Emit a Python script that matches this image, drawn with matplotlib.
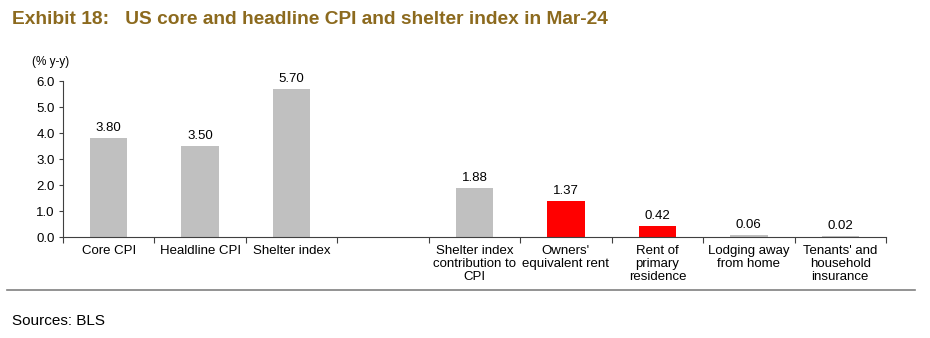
import numpy as np
import matplotlib
matplotlib.use("Agg")
import matplotlib.pyplot as plt
from matplotlib.ticker import FormatStrFormatter

plt.rcParams["font.family"] = ["Liberation Sans", "DejaVu Sans"]

categories = [
    "Core CPI",
    "Healdline CPI",
    "Shelter index",
    "",
    "Shelter index\ncontribution to\nCPI",
    "Owners'\nequivalent rent",
    "Rent of\nprimary\nresidence",
    "Lodging away\nfrom home",
    "Tenants' and\nhousehold\ninsurance",
]
values = [3.80, 3.50, 5.70, np.nan, 1.88, 1.37, 0.42, 0.06, 0.02]
bar_colors = ["#C0C0C0", "#C0C0C0", "#C0C0C0", "#C0C0C0", "#C0C0C0",
              "#FF0000", "#FF0000", "#C0C0C0", "#C0C0C0"]
y_ticks = [0.0, 1.0, 2.0, 3.0, 4.0, 5.0, 6.0]

TITLE_COLOR = "#8C6A1E"

fig = plt.figure(figsize=(9.3, 3.38), dpi=100)
ax = fig.add_axes([0.0677, 0.2988, 0.885, 0.4615])

x = np.arange(len(categories))
ax.bar(x, values, width=0.41, color=bar_colors, zorder=2)

# value labels over each bar
for xi, v in zip(x, values):
    if np.isnan(v):
        continue
    ax.annotate(f"{v:.2f}", (xi, v), xytext=(0, 3), textcoords="offset points",
                ha="center", va="bottom", fontsize=9.5, clip_on=False)

ax.set_xlim(-0.5, len(categories) - 0.5)
ax.set_ylim(0, 6)
ax.set_yticks(y_ticks)
ax.yaxis.set_major_formatter(FormatStrFormatter("%.1f"))

# boundary ticks between categories, names centred under each bar
ax.set_xticks(np.arange(-0.5, len(categories), 1.0))
ax.set_xticklabels([])
ax.set_xticks(x, minor=True)
ax.set_xticklabels(categories, minor=True, fontsize=9.5, linespacing=1.12)
ax.tick_params(axis="x", which="major", direction="out", length=4, width=0.8, color="#404040")
ax.tick_params(axis="x", which="minor", length=0, pad=6)
ax.tick_params(axis="y", direction="out", length=3, width=0.8, color="#404040",
               labelsize=9.5, pad=3)

for side in ("top", "right"):
    ax.spines[side].set_visible(False)
for side in ("left", "bottom"):
    ax.spines[side].set_color("#404040")
    ax.spines[side].set_linewidth(0.8)

fig.text(32 / 930, 1 - 62 / 338, "(% y-y)", fontsize=8.5, va="center", ha="left")

fig.text(12 / 930, 1 - 20 / 338, "Exhibit 18:   US core and headline CPI and shelter index in Mar-24",
         fontsize=13.8, fontweight="bold", color=TITLE_COLOR, va="center", ha="left")

fig.add_artist(plt.Line2D([7 / 930, 915 / 930], [1 - 290 / 338, 1 - 290 / 338],
                          color="#808080", linewidth=1.2))
fig.text(12 / 930, 1 - 321 / 338, "Sources: BLS",
         fontstretch="condensed", fontsize=11, va="center", ha="left")

fig.savefig("out.png", dpi=100)
